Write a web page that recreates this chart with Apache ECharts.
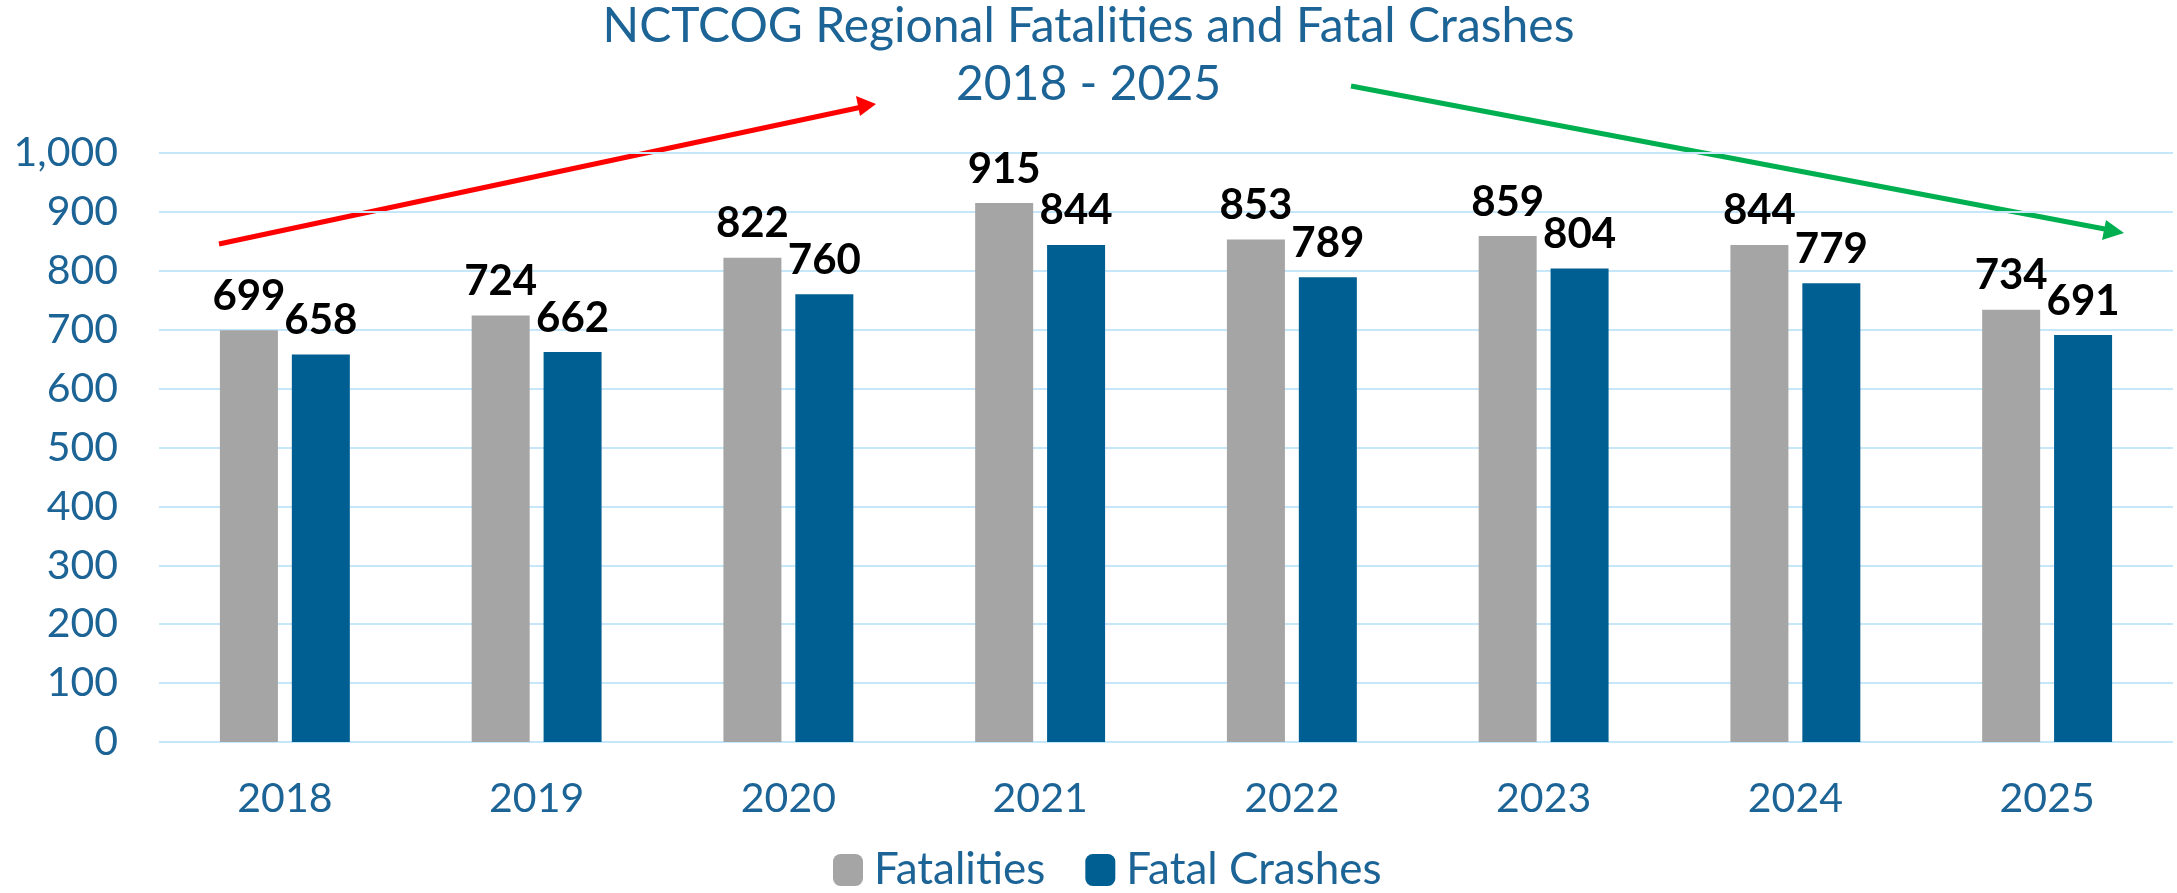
<!DOCTYPE html>
<html><head><meta charset="utf-8">
<script src="https://cdn.jsdelivr.net/npm/echarts@6/dist/echarts.min.js"></script>
<style>html,body{margin:0;padding:0;background:#fff}#c{width:2177px;height:893px}</style>
</head><body><div id="c"></div>
<script>
const categories = ['2018','2019','2020','2021','2022','2023','2024','2025'];
const fatalities = [699, 724, 822, 915, 853, 859, 844, 734];
const fatalCrashes = [658, 662, 760, 844, 789, 804, 779, 691];
const seriesNames = ['Fatalities', 'Fatal Crashes'];
const titleText = 'NCTCOG Regional Fatalities and Fatal Crashes\n2018 - 2025';

const chart = echarts.init(document.getElementById('c'));
const font = 'Lato, "Open Sans", sans-serif';
const labelStyle = {show: true, position: 'top', distance: 13, color: '#000', fontWeight: 'bold', fontSize: 42, fontFamily: font};
chart.setOption({
  animation: false,
  title: {text: titleText, left: 'center', top: -2, padding: 0,
    textStyle: {color: '#1D6496', fontSize: 48, fontWeight: 'normal', fontFamily: font, lineHeight: 58}},
  legend: {top: 843, left: 828, itemWidth: 30, itemHeight: 32, itemGap: 40,
    textStyle: {color: '#1D6496', fontSize: 44, fontFamily: font, padding: [0, 0, 0, 6]},
    data: seriesNames},
  grid: {left: 159, right: 4, top: 153, bottom: 151},
  xAxis: {type: 'category', data: categories,
    axisLine: {show: false}, axisTick: {show: false},
    axisLabel: {color: '#1D6496', fontSize: 41, fontFamily: font, margin: 36}},
  yAxis: {type: 'value', min: 0, max: 1000, interval: 100,
    axisLine: {show: false}, axisTick: {show: false},
    splitLine: {lineStyle: {color: '#C6E6FA', width: 2}},
    axisLabel: {color: '#1D6496', fontSize: 41, fontFamily: font, margin: 41,
      formatter: v => v.toLocaleString('en-US')}},
  series: [
    {name: seriesNames[0], type: 'bar', data: fatalities, barWidth: 58, barGap: '24%',
      itemStyle: {color: '#A5A5A5'}, label: labelStyle},
    {name: seriesNames[1], type: 'bar', data: fatalCrashes, barWidth: 58,
      itemStyle: {color: '#005F92'}, label: labelStyle}
  ],
  graphic: [
    {type: 'polyline', shape: {points: [[219, 244], [862, 107]]}, style: {stroke: '#FF0000', lineWidth: 5}},
    {type: 'polygon', shape: {points: [[876, 104], [856, 96], [860, 116]]}, style: {fill: '#FF0000'}},
    {type: 'polyline', shape: {points: [[1351, 86], [2110, 230]]}, style: {stroke: '#00B050', lineWidth: 5}},
    {type: 'polygon', shape: {points: [[2124, 233], [2106, 220], [2102, 240]]}, style: {fill: '#00B050'}}
  ]
});
</script></body></html>
